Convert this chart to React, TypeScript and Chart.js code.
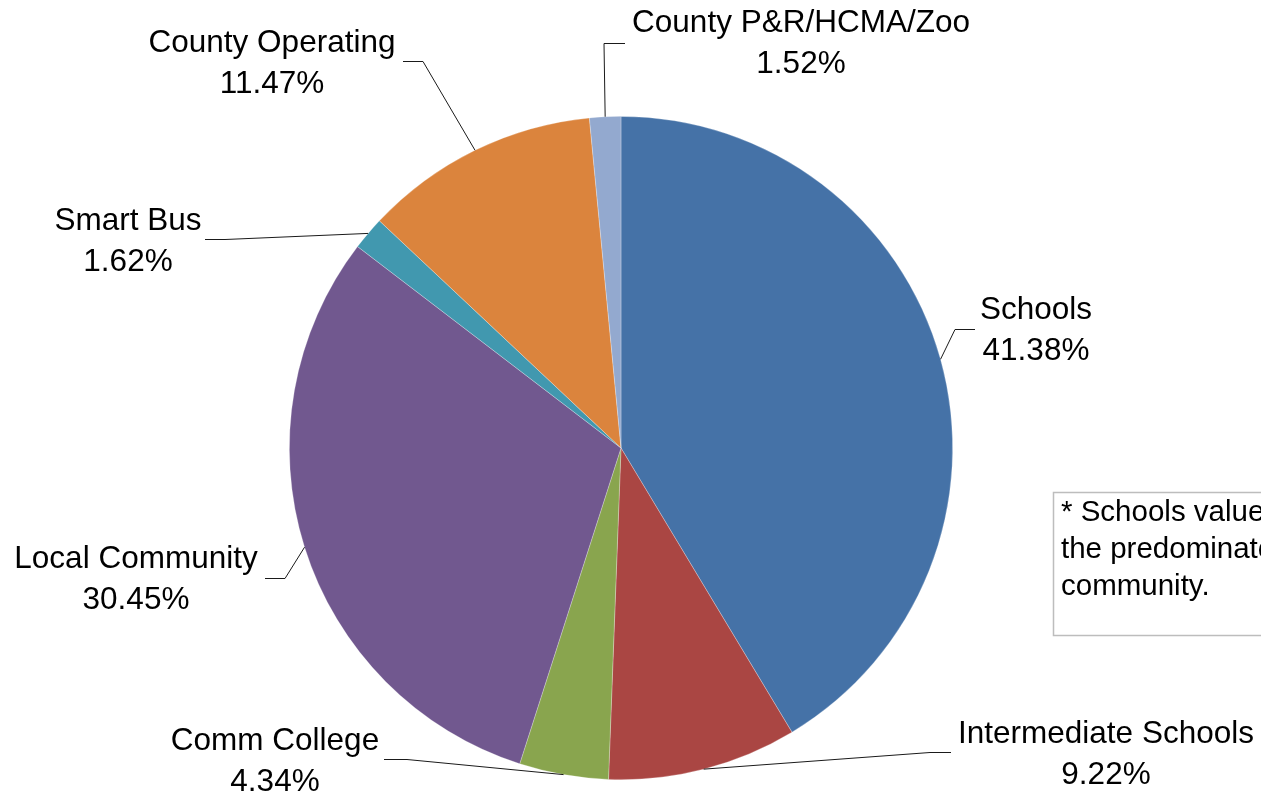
import React, { useEffect, useRef } from "react";
import { Chart, registerables } from "chart.js";

Chart.register(...registerables);

const categories = [
  "Schools",
  "Intermediate Schools",
  "Comm College",
  "Local Community",
  "Smart Bus",
  "County Operating",
  "County P&R/HCMA/Zoo",
];
const shares = [41.38, 9.22, 4.34, 30.45, 1.62, 11.47, 1.52];
const sliceColors = ["#4572A7", "#AA4643", "#89A54E", "#71588F", "#4198AF", "#DB843D", "#93A9CF"];
const noteLines = ["* Schools value is for", "the predominate school in the", "community."];

// label placement: text centre x, first baseline y, leader stub (from x -> to x at y)
const labelLayout = [
  { cx: 1036, by: 319, sx: 975, ex: 955, sy: 329 },
  { cx: 1106, by: 743, sx: 951, ex: 930, sy: 752 },
  { cx: 275, by: 750, sx: 384, ex: 407, sy: 759 },
  { cx: 136, by: 568, sx: 265, ex: 285, sy: 578 },
  { cx: 128, by: 230, sx: 205, ex: 225, sy: 239 },
  { cx: 272, by: 52, sx: 403, ex: 423, sy: 61 },
  { cx: 801, by: 32, sx: 625, ex: 604, sy: 43 },
];

const FONT = '"Liberation Sans", Arial, sans-serif';

const labelPlugin = {
  id: "pieLabels",
  afterDraw(chart: any) {
    const ctx = chart.ctx;
    const meta = chart.getDatasetMeta(0);
    ctx.save();
    // leader lines
    meta.data.forEach((arc: any, i: number) => {
      const L = labelLayout[i];
      const mid = (arc.startAngle + arc.endAngle) / 2;
      const px = arc.x + Math.cos(mid) * arc.outerRadius;
      const py = arc.y + Math.sin(mid) * arc.outerRadius;
      ctx.beginPath();
      ctx.strokeStyle = "#1a1a1a";
      ctx.lineWidth = 1;
      ctx.moveTo(L.sx, L.sy + 0.5);
      ctx.lineTo(L.ex, L.sy + 0.5);
      ctx.lineTo(px, py);
      ctx.stroke();
    });
    // labels
    ctx.fillStyle = "#000";
    ctx.font = `31.5px ${FONT}`;
    ctx.textAlign = "center";
    ctx.textBaseline = "alphabetic";
    categories.forEach((name, i) => {
      const L = labelLayout[i];
      ctx.fillText(name, L.cx, L.by);
      ctx.fillText(shares[i].toFixed(2) + "%", L.cx, L.by + 41);
    });
    // note box
    ctx.strokeStyle = "#bdbdbd";
    ctx.lineWidth = 1.5;
    ctx.strokeRect(1053.5, 492.5, 260, 143);
    ctx.font = `29.5px ${FONT}`;
    ctx.textAlign = "left";
    noteLines.forEach((t, k) => {
      ctx.fillText(t, 1061, 521 + k * 37);
    });
    ctx.restore();
  },
};

export default function App() {
  const ref = useRef<HTMLCanvasElement | null>(null);
  useEffect(() => {
    if (!ref.current) return;
    const chart = new Chart(ref.current, {
      type: "pie",
      data: {
        labels: categories,
        datasets: [
          {
            data: shares,
            backgroundColor: sliceColors,
            borderColor: "rgba(255,255,255,0.35)",
            borderWidth: 0.75,
          },
        ],
      },
      options: {
        animation: false,
        responsive: true,
        maintainAspectRatio: false,
        layout: { padding: { top: 116, bottom: 15, left: 289, right: 308 } },
        plugins: {
          legend: { display: false },
          tooltip: { enabled: false },
          title: { display: false },
        },
      },
      plugins: [labelPlugin],
    });
    return () => chart.destroy();
  }, []);
  return (
    <div style={{ position: "fixed", left: 0, top: 0, width: 1261, height: 795, background: "#fff" }}>
      <canvas ref={ref} />
    </div>
  );
}
